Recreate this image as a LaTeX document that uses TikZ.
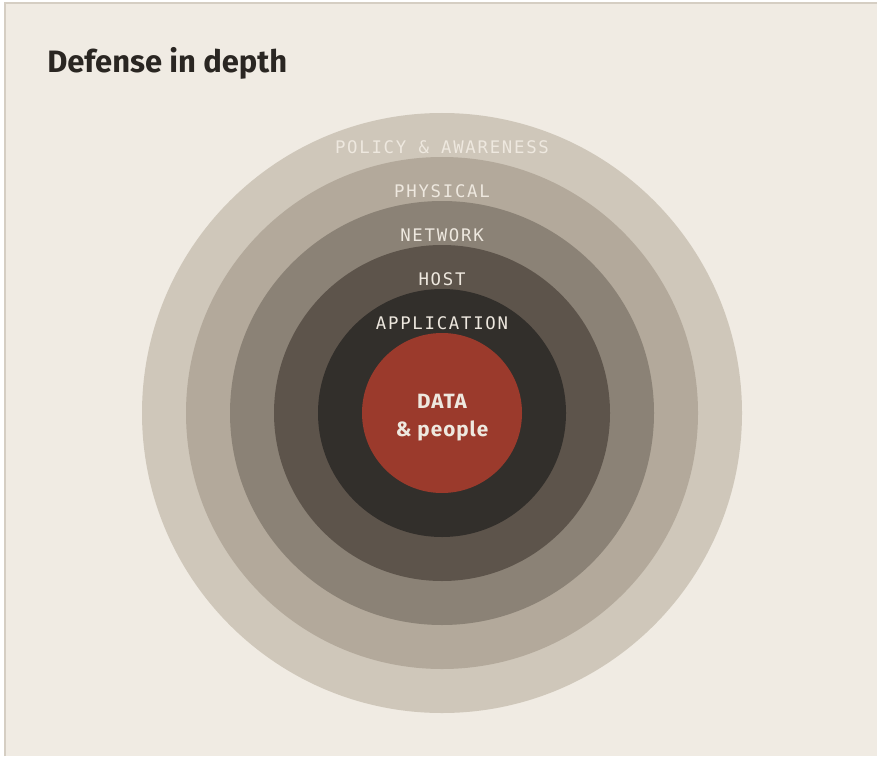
\documentclass[tikz,border=0pt]{standalone}
\usepackage{fontspec}
\setmainfont{Fira Sans}
\newfontfamily\monolabel[LetterSpace=10]{DejaVu Sans Mono}
\newfontfamily\corefont[LetterSpace=5]{Fira Sans}
\usetikzlibrary{positioning}

\definecolor{paper}{HTML}{F0EBE3}
\definecolor{frame}{HTML}{D5CEC3}
\definecolor{ink}{HTML}{2A2622}
\definecolor{policyring}{HTML}{CFC7BA}
\definecolor{physicalring}{HTML}{B3A99B}
\definecolor{networkring}{HTML}{8B8276}
\definecolor{hostring}{HTML}{5D544B}
\definecolor{appring}{HTML}{322F2B}
\definecolor{datacore}{HTML}{9B3A2C}
\definecolor{ringtext}{HTML}{EEE8DF}

\begin{document}
\begin{tikzpicture}[x=0.75pt,y=-0.75pt,
  ring/.style={circle,draw=none,inner sep=0pt,minimum size=#1},
  layer/.style={font=\monolabel\fontsize{13}{15}\selectfont,
    text=ringtext,inner sep=0pt,anchor=base},
  heading/.style={font=\bfseries\fontsize{23.2}{28}\selectfont,
    text=ink,inner sep=0pt,anchor=base west},
  core/.style={font=\corefont\bfseries\fontsize{15.5}{21}\selectfont,
    text=ringtext,align=center,inner sep=0pt}]
\useasboundingbox (0,0) rectangle (877,756);
\fill[white] (0,0) rectangle (877,756);
\fill[paper] (4,3) rectangle (877,756);
\draw[frame,line width=1.5pt] (4.5,756)--(4.5,3.5)--(877,3.5);

\node[heading] (title) at (47,73) {Defense in depth};

% rings, outside in, 44px apart
\node[ring=450pt,fill=policyring] (policy) at (442,413) {};
\node[ring=384pt,fill=physicalring] (physical) at (442,413) {};
\node[ring=318pt,fill=networkring] (network) at (442,413) {};
\node[ring=252pt,fill=hostring] (host) at (442,413) {};
\node[ring=186pt,fill=appring] (app) at (442,413) {};
\node[ring=120pt,fill=datacore] (data) at (442,413) {};

\node[layer] (policy_lbl) at (442,153) {POLICY \& AWARENESS};
\node[layer] (physical_lbl) at (442,197) {PHYSICAL};
\node[layer] (network_lbl) at (442,241) {NETWORK};
\node[layer] (host_lbl) at (442,285) {HOST};
\node[layer] (app_lbl) at (442,329) {APPLICATION};

\node[core] (data_lbl) at (442,418) {DATA\\\& people};
\end{tikzpicture}
\end{document}
